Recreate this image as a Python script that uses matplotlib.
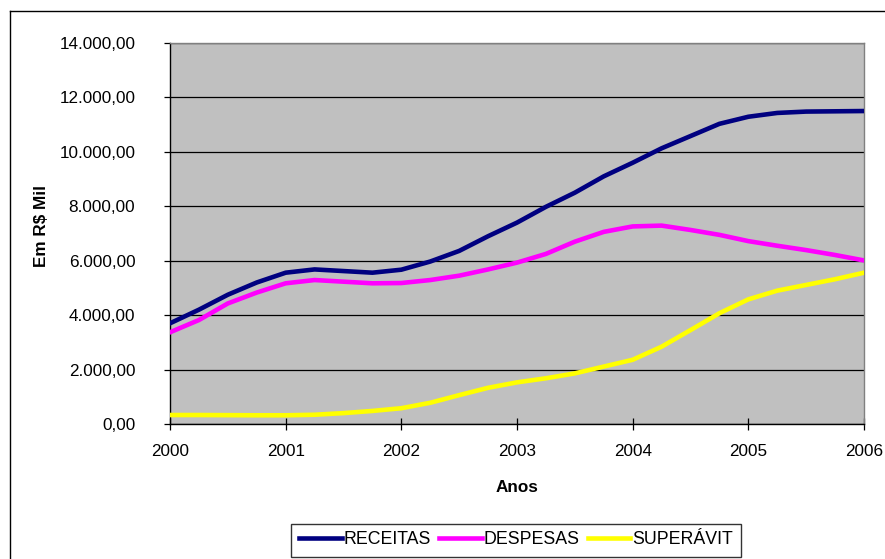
import numpy as np
import matplotlib
matplotlib.use("Agg")
import matplotlib.pyplot as plt
from matplotlib.ticker import FuncFormatter
from matplotlib.lines import Line2D

plt.rcParams['font.family'] = ['Liberation Sans', 'DejaVu Sans']

# trimestres de 2000 a 2006
trimestres = np.arange(2000, 2006.01, 0.25)

receitas = [3700, 4200, 4750, 5200, 5560, 5680, 5620, 5560, 5670,
            5970, 6360, 6900, 7400, 7980, 8500, 9100, 9600,
            10130, 10580, 11030, 11290, 11430, 11480, 11490, 11500]
despesas = [3370, 3820, 4430, 4830, 5170, 5290, 5230, 5170, 5180,
            5290, 5450, 5680, 5930, 6250, 6700, 7060, 7260,
            7290, 7130, 6950, 6720, 6550, 6390, 6210, 6010]
superavit = [330, 330, 325, 320, 320, 340, 400, 480, 580,
             780, 1060, 1330, 1530, 1680, 1860, 2110, 2360,
             2840, 3450, 4070, 4580, 4900, 5110, 5320, 5560]

anos = [2000, 2001, 2002, 2003, 2004, 2005, 2006]
niveis = [0, 2000, 4000, 6000, 8000, 10000, 12000, 14000]


def fmt_brl(v, pos):
    s = f"{v:,.2f}"
    return s.replace(",", "X").replace(".", ",").replace("X", ".")


fig = plt.figure(figsize=(8.85, 5.59), dpi=100)
ax = fig.add_axes([170 / 885, 135 / 559, 694 / 885, 381 / 559])
ax.set_facecolor('#C0C0C0')

ax.plot(trimestres, receitas, color='#000080', lw=3.3, label='RECEITAS', zorder=3)
ax.plot(trimestres, despesas, color='#FF00FF', lw=3.3, label='DESPESAS', zorder=3)
ax.plot(trimestres, superavit, color='#FFFF00', lw=3.3, label='SUPERÁVIT', zorder=3)

ax.set_xlim(2000, 2006)
ax.set_ylim(0, 14000)
ax.set_xticks(anos)
ax.set_xticklabels([str(a) for a in anos])
ax.set_yticks(niveis)
ax.yaxis.set_major_formatter(FuncFormatter(fmt_brl))
ax.grid(axis='y', color='black', lw=0.9, zorder=1)
ax.set_axisbelow(True)

ax.tick_params(axis='y', direction='out', length=4, width=0.9, pad=21, labelsize=12.3)
ax.tick_params(axis='x', direction='inout', length=9, width=0.9, pad=10, labelsize=12.3)

for lado in ['left', 'bottom']:
    ax.spines[lado].set_color('black')
    ax.spines[lado].set_linewidth(1)
for lado in ['top', 'right']:
    ax.spines[lado].set_color('#808080')
    ax.spines[lado].set_linewidth(1)

fig.text(41 / 885, 1 - 226 / 559, 'Em R$ Mil', rotation=90, ha='center', va='center',
         fontsize=12.3, fontweight='bold')
fig.text(517 / 885, 1 - 488 / 559, 'Anos', ha='center', va='center',
         fontsize=12.3, fontweight='bold')

# moldura externa do gráfico
fig.add_artist(Line2D([10 / 885, 10 / 885], [0, 1 - 11 / 559], color='black', lw=1))
fig.add_artist(Line2D([10 / 885, 1], [1 - 11 / 559, 1 - 11 / 559], color='black', lw=1))

leg = fig.legend(loc='center', bbox_to_anchor=(516 / 885, 1 - 540 / 559), ncol=3,
                 frameon=True, fancybox=False, edgecolor='black', fontsize=12.8,
                 handlelength=2.4, handletextpad=0.1, columnspacing=0.45,
                 borderpad=0.45, borderaxespad=0)
leg.get_frame().set_linewidth(1)

fig.savefig('out.png', dpi=100)
